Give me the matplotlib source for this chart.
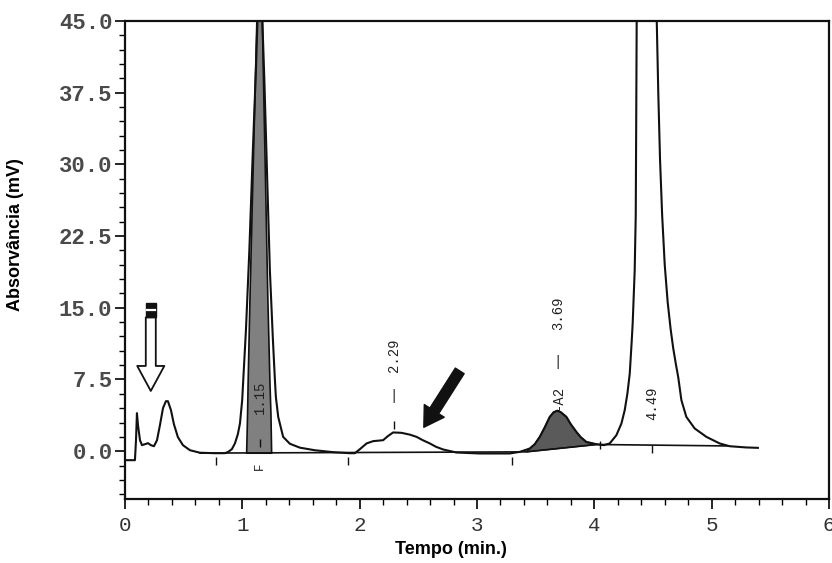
import matplotlib
matplotlib.use('Agg')

from matplotlib import pyplot as plt
from matplotlib.patches import FancyArrowPatch, Rectangle
from matplotlib.ticker import MultipleLocator, FormatStrFormatter

# chromatogram trace (time in min, absorbance in mV)
tempo = [0.00, 0.085, 0.094, 0.102, 0.111, 0.128, 0.145, 0.170, 0.196, 0.221,
         0.247, 0.273, 0.298, 0.324, 0.349, 0.366, 0.392, 0.417, 0.451, 0.494,
         0.554, 0.639, 0.767, 0.852, 0.880, 0.911, 0.937, 0.962, 0.980, 0.999,
         1.008, 1.031, 1.060, 1.090, 1.116, 1.129, 1.150, 1.171, 1.188, 1.210,
         1.235, 1.261, 1.278, 1.286, 1.306, 1.348, 1.405, 1.490, 1.618, 1.772,
         1.917, 1.959, 2.002, 2.059, 2.115, 2.200, 2.240, 2.285, 2.357, 2.428,
         2.485, 2.538, 2.598, 2.649, 2.711, 2.825, 3.024, 3.279, 3.365, 3.450,
         3.492, 3.535, 3.578, 3.620, 3.654, 3.686, 3.714, 3.762, 3.799, 3.847,
         3.884, 3.932, 4.017, 4.080, 4.131, 4.188, 4.231, 4.259, 4.282, 4.302,
         4.319, 4.327, 4.344, 4.353, 4.357, 4.361, 4.450, 4.532, 4.545, 4.560,
         4.578, 4.600, 4.625, 4.650, 4.672, 4.695, 4.715, 4.742, 4.784, 4.855,
         4.955, 5.068, 5.153, 5.296, 5.394]
absorv = [-0.94, -0.94, 1.15, 3.98, 2.72, 1.15, 0.63, 0.73, 0.84, 0.63,
          0.52, 1.15, 2.72, 4.50, 5.23, 5.23, 4.29, 2.83, 1.47, 0.63,
          0.10, -0.16, -0.21, -0.21, -0.07, 0.21, 0.81, 1.78, 2.90, 5.34,
          7.43, 12.66, 21.0, 31.5, 39.9, 45.0, 58.0, 45.0, 38.8, 29.4,
          18.9, 11.6, 7.43, 5.68, 3.59, 1.50, 0.78, 0.37, 0.10, -0.10,
          -0.21, -0.21, 0.21, 0.81, 1.05, 1.15, 1.57, 1.96, 1.92, 1.73,
          1.50, 1.15, 0.81, 0.47, 0.18, -0.14, -0.24, -0.24, -0.07, 0.28,
          0.73, 1.50, 2.51, 3.59, 4.08, 4.24, 4.08, 3.59, 2.83, 2.02,
          1.47, 0.97, 0.73, 0.63, 0.81, 1.67, 2.90, 4.29, 6.04, 8.13,
          11.6, 13.4, 18.9, 24.7, 34.6, 45.0, 60.0, 45.0, 37.5, 30.5,
          24.7, 19.5, 15.6, 12.8, 10.8, 9.1, 7.74, 5.34, 3.59, 2.38,
          1.50, 0.81, 0.52, 0.39, 0.35]

# shaded band of the 1.15 peak
banda_t = [1.037, 1.045, 1.050, 1.065, 1.086, 1.107, 1.124, 1.171, 1.184,
           1.201, 1.218, 1.235, 1.244, 1.250]
banda_y = [-0.21, 3.98, 7.43, 15.8, 26.3, 36.7, 45.0, 45.0, 36.7,
           26.3, 15.8, 7.43, 3.98, -0.21]

# integration baselines
base_t = [0.64, 3.42, 4.02, 5.13]
base_y = [-0.20, -0.07, 0.70, 0.55]

# peaks: retention time and labels
tr = [1.15, 2.29, 3.69, 4.49]
rotulos = ["1.15", "2.29", "3.69", "4.49"]
rotulo_y = [3.9, 8.3, 12.7, 3.3]
traco_y = [None, 5.8, 9.3, None]

# integration marks under / on the baseline
marca_t = [0.78, 1.90, 3.30, 4.05, 4.49, 1.15, 2.29]
marca_y = [-1.0, -1.0, -1.0, 0.6, 0.2, 0.9, 2.7]

cor = '#111111'
fig = plt.figure(figsize=(8.32, 5.63), dpi=100)
ax = fig.add_axes([0.1502, 0.1137, 0.8462, 0.849])

ax.fill(banda_t, banda_y, facecolor='#808080', edgecolor=cor, lw=1.2, zorder=2)
ax.plot(tempo, absorv, color=cor, lw=1.5, zorder=3)
ax.plot(base_t, base_y, color=cor, lw=1.2, zorder=3)

# A2 shaded area between trace and baseline
a2 = [(t, y) for t, y in zip(tempo, absorv) if base_t[1] < t < base_t[2]]
ax.fill([base_t[1]] + [p[0] for p in a2] + [base_t[2]],
        [base_y[1]] + [p[1] for p in a2] + [base_y[2]],
        facecolor='#5a5a5a', edgecolor=cor, lw=1.0, zorder=2)

ax.plot(marca_t, marca_y, ls='none', marker='|', ms=6, mew=1.0, color=cor, zorder=4)

mono = 'Liberation Mono'
for t, s, y, d in zip(tr, rotulos, rotulo_y, traco_y):
    ax.text(t, y, s, rotation=90, ha='center', va='bottom', fontsize=10,
            family=mono, color='#222222', zorder=5)
    if d is not None:
        ax.text(t, d, '|', ha='center', va='center', fontsize=10,
                family=mono, color='#222222', zorder=5)
ax.text(tr[2], 4.3, '-A2', rotation=90, ha='center', va='bottom', fontsize=10,
        family=mono, color='#222222', zorder=5)
ax.text(tr[0], -1.6, 'F', rotation=90, ha='center', va='center', fontsize=9,
        family=mono, color='#222222', zorder=5)

# open arrow (injection) and black arrow
seta = FancyArrowPatch((0.22, 14.0), (0.22, 6.3), mutation_scale=1,
                       arrowstyle='simple,head_length=18,head_width=19.5,tail_width=7.2',
                       shrinkA=0, shrinkB=0, fc='white', ec=cor, lw=1.3, zorder=5)
ax.add_patch(seta)
ax.add_patch(Rectangle((0.177, 14.0), 0.086, 1.5, fc=cor, ec=cor, lw=1, zorder=5))
ax.plot([0.185, 0.255], [14.75, 14.75], color='white', lw=1.6, zorder=6)

seta2 = FancyArrowPatch((2.853, 8.4), (2.547, 2.5), mutation_scale=1,
                        arrowstyle='simple,head_length=14,head_width=17,tail_width=7.5',
                        shrinkA=0, shrinkB=0, fc=cor, ec=cor, lw=1, zorder=5)
ax.add_patch(seta2)

ax.set_xlim(0, 6)
ax.set_ylim(-5, 45)
ax.xaxis.set_major_locator(MultipleLocator(1))
ax.xaxis.set_minor_locator(MultipleLocator(0.2))
ax.yaxis.set_minor_locator(MultipleLocator(1.5))
ax.set_yticks([0, 7.5, 15, 22.5, 30, 37.5, 45])
ax.yaxis.set_major_formatter(FormatStrFormatter('%.1f'))

ax.tick_params(axis='y', which='major', direction='out', length=7, width=1.2, pad=2,
               labelsize=16, labelcolor='#4a4a4a')
ax.tick_params(axis='y', which='minor', direction='out', length=4, width=1.0)
ax.tick_params(axis='x', which='major', direction='out', length=7, width=1.2, pad=5,
               labelsize=15, labelcolor='#333333')
ax.tick_params(axis='x', which='minor', direction='out', length=4, width=1.0)
for lab in ax.get_xticklabels():
    lab.set_family(mono)
for lab in ax.get_yticklabels():
    lab.set_family(mono)
    lab.set_fontweight('bold')
for sp in ax.spines.values():
    sp.set_linewidth(1.6)
    sp.set_color(cor)

ax.set_xlabel("Tempo (min.)", fontsize=13, fontweight='bold', family='Liberation Sans')
ax.set_ylabel("Absorvância (mV)", fontsize=13, fontweight='bold', family='Liberation Sans')
ax.xaxis.set_label_coords(0.463, -0.088)
ax.yaxis.set_label_coords(-0.1435, 0.554)

fig.savefig('out.png', dpi=100)
